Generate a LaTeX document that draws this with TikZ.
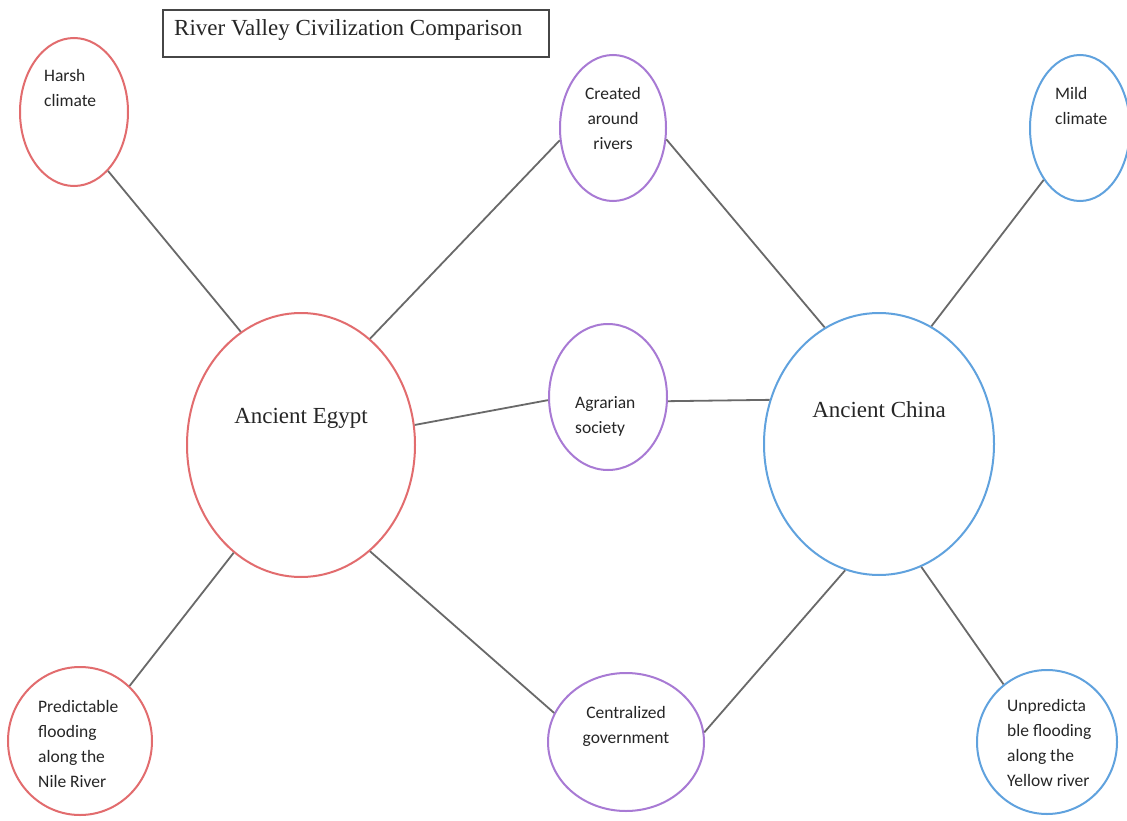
\documentclass[tikz,border=0pt]{standalone}
\usepackage{fontspec}
\setmainfont{Liberation Serif}
\newfontfamily\calfont{Carlito}
\usetikzlibrary{shapes.geometric}
\definecolor{egyptred}{RGB}{226,108,110}
\definecolor{sharedpurple}{RGB}{168,122,212}
\definecolor{chinablue}{RGB}{96,162,222}
\definecolor{linkgray}{RGB}{105,105,105}
\definecolor{boxgray}{RGB}{70,70,70}
\tikzset{
  bubble/.style={ellipse, draw, line width=2pt, inner sep=0pt},
  redbubble/.style={bubble, draw=egyptred},
  purplebubble/.style={bubble, draw=sharedpurple},
  bluebubble/.style={bubble, draw=chinablue},
  link/.style={draw=linkgray, line width=1.8pt},
  smalltext/.style={font=\calfont\fontsize{17.5}{25}\selectfont, inner sep=0pt, text=black!85},
  bigtext/.style={font=\fontsize{23}{28}\selectfont, inner sep=0pt, text=black!85},
  titlebox/.style={draw=boxgray, line width=1.6pt, inner sep=0pt}
}
\begin{document}
\begin{tikzpicture}[x=1pt,y=-1pt]
\useasboundingbox[fill=white] (0,0) rectangle (1127,821);

% title
\node[titlebox, minimum width=386pt, minimum height=47pt] (titlebox) at (356,33.5) {};
\node[bigtext, anchor=base west] (titletext) at (174,36) {River Valley Civilization Comparison};

% bubbles
\node[redbubble, minimum width=108pt, minimum height=148pt] (harsh) at (74,112) {};
\node[purplebubble, minimum width=106pt, minimum height=146pt] (created) at (613,128) {};
\node[bluebubble, minimum width=100pt, minimum height=146pt] (mild) at (1080,128) {};
\node[redbubble, minimum width=228pt, minimum height=264pt] (egypt) at (301,445) {};
\node[purplebubble, minimum width=118pt, minimum height=146pt] (agrarian) at (608,397) {};
\node[bluebubble, minimum width=230pt, minimum height=262pt] (china) at (879,444) {};
\node[redbubble, minimum width=144pt, minimum height=148pt] (pred) at (80,741) {};
\node[purplebubble, minimum width=156pt, minimum height=138pt] (central) at (626,742) {};
\node[bluebubble, minimum width=140pt, minimum height=144pt] (unpred) at (1047,742) {};

% texts
\node[smalltext, anchor=north west, align=left] (harshtext) at (44,69) {Harsh\\climate};
\node[smalltext, anchor=north, align=center] (createdtext) at (613,87) {Created\\around\\rivers};
\node[smalltext, anchor=north west, align=left] (mildtext) at (1055,87) {Mild\\climate};
\node[bigtext, anchor=base] (egypttext) at (301,423) {Ancient Egypt};
\node[smalltext, anchor=north west, align=left] (agrariantext) at (575,396) {Agrarian\\society};
\node[bigtext, anchor=base] (chinatext) at (879,417) {Ancient China};
\node[smalltext, anchor=north west, align=left] (predtext) at (38,700) {Predictable\\flooding\\along the\\Nile River};
\node[smalltext, anchor=north, align=center] (centraltext) at (626,706) {Centralized\\government};
\node[smalltext, anchor=north west, align=left] (unpredtext) at (1007,699) {Unpredicta\\ble flooding\\along the\\Yellow river};

% connectors
\draw[link] (harsh.-60) -- (egypt.118);
\draw[link] (egypt.57) -- (created.-167);
\draw[link] (created.-12) -- (china.115);
\draw[link] (mild.-125) -- (china.66);
\draw[link] (egypt.10) -- (agrarian.-177);
\draw[link] (agrarian.-4) -- (china.158);
\draw[link] (egypt.-122) -- (pred.48);
\draw[link] (egypt.-57) -- (central.158);
\draw[link] (china.-105) -- (central.7);
\draw[link] (china.-71) -- (unpred.127);
\end{tikzpicture}
\end{document}
